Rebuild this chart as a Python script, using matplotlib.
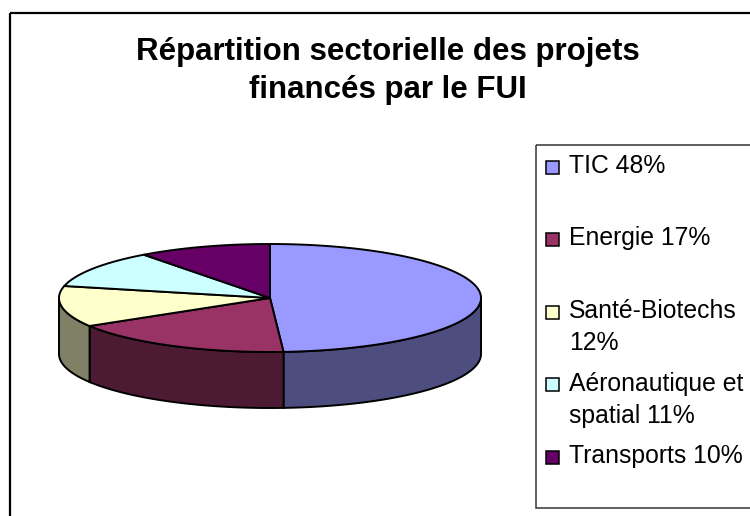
import numpy as np
import matplotlib
matplotlib.use('Agg')
import matplotlib.pyplot as plt
from matplotlib.patches import Polygon, Rectangle

# données du graphique
secteurs = ['TIC', 'Energie', 'Santé-Biotechs', 'Aéronautique et spatial', 'Transports']
parts = [48, 17, 12, 11, 10]
legende = ['TIC 48%', 'Energie 17%', 'Santé-Biotechs\n12%', 'Aéronautique et\nspatial 11%', 'Transports 10%']
titre = ['Répartition sectorielle des projets', 'financés par le FUI']

couleurs_dessus = ['#9999FF', '#993366', '#FFFFCC', '#CCFFFF', '#660066']
couleurs_cote = ['#4D4D80', '#4D1A33', '#808066', '#668080', '#330033']

fig = plt.figure(figsize=(7.5, 5.16), dpi=100)
ax = fig.add_axes([0, 0, 1, 1])
ax.set_xlim(0, 750)
ax.set_ylim(516, 0)
ax.axis('off')

# cadre de la zone de graphique
ax.add_patch(Rectangle((10, 13), 770, 530, fill=False, ec='black', lw=1.6))

# titre
police = 'Liberation Sans'
for j, ligne in enumerate(titre):
    ax.text(388, 60 + 38 * j, ligne, ha='center', va='baseline',
            fontsize=22.5, fontweight='bold', family=police)

# camembert 3D (ellipse + épaisseur)
cx, cy, a, b, h = 270, 298, 211, 54, 56
frac = np.array(parts, dtype=float) / sum(parts)
bornes = 90 - 360 * np.concatenate([[0], np.cumsum(frac)])


def arc(t1, t2, n=120):
    t = np.radians(np.linspace(t1, t2, n))
    return cx + a * np.cos(t), cy - b * np.sin(t)


# faces latérales visibles (moitié avant)
for i in range(len(parts)):
    haut, bas = bornes[i], bornes[i + 1]
    for k in (0, -360):
        t1 = min(haut, k)
        t2 = max(bas, k - 180)
        if t1 > t2:
            x, y = arc(t1, t2)
            xs = np.concatenate([x, x[::-1]])
            ys = np.concatenate([y, y[::-1] + h])
            ax.add_patch(Polygon(np.column_stack([xs, ys]), closed=True,
                                 fc=couleurs_cote[i], ec='black', lw=1.4))

# dessus des parts
for i in range(len(parts)):
    x, y = arc(bornes[i], bornes[i + 1])
    pts = np.column_stack([np.r_[cx, x], np.r_[cy, y]])
    ax.add_patch(Polygon(pts, closed=True, fc=couleurs_dessus[i], ec='black', lw=1.4))

# légende
ax.add_patch(Rectangle((536, 145), 240, 363, fill=False, ec='#333333', lw=1.1))
for i, lab in enumerate(legende):
    ym = 167 + 72.5 * i
    ax.add_patch(Rectangle((546, ym - 6.5), 13, 13, fc=couleurs_dessus[i], ec='black', lw=1.1))
    for j, ligne in enumerate(lab.split('\n')):
        ax.text(569, ym + 6 + 32 * j, ligne, ha='left', va='baseline',
                fontsize=17.8, family=police)

fig.savefig('out.png', dpi=100)
